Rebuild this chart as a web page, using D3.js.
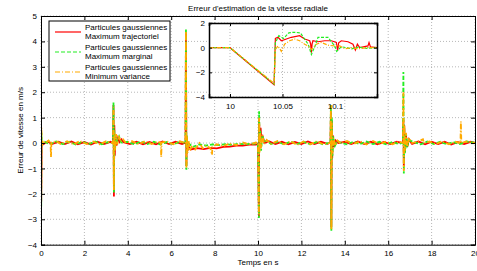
<!DOCTYPE html>
<html>
<head>
<meta charset="utf-8">
<script src="https://cdn.jsdelivr.net/npm/d3@7"></script>
<style>
  body { margin: 0; background: #fff; }
  svg { display: block; font-family: "Liberation Sans", Arial, sans-serif; }
  .grid line { stroke: #999; stroke-width: 0.7; stroke-dasharray: 1,2; }
  .tick text { font-size: 8px; fill: #000; }
</style>
</head>
<body>
<div id="chart"></div>
<script>
// chart texts
var title = "Erreur d'estimation de la vitesse radiale";
var xLabel = "Temps en s";
var yLabel = "Erreur de vitesse en m/s";
var legendRows = [["Particules gaussiennes", "Maximum trajectoriel"],
                  ["Particules gaussiennes", "Maximum marginal"],
                  ["Particules gaussiennes", "Minimum variance"]];

// ticks
var xTicks = [0, 2, 4, 6, 8, 10, 12, 14, 16, 18, 20];
var yTicks = [-4, -3, -2, -1, 0, 1, 2, 3, 4, 5];
var insetXTicks = [10, 10.05, 10.1];
var insetYTicks = [-4, -2, 0, 2];

// main plot series [t, erreur]
var redMain = [[0,0.3],[0.01,-2.3],[0.03,0.05],[0.1,-0.05],[0.3,0.06],[0.5,-0.04],[0.8,0.05],[1.1,-0.04],[1.4,0.06],[1.7,-0.05],[2.0,0.04],[2.3,-0.06],[2.6,0.05],[2.9,-0.04],[3.2,0.05],[3.32,0],[3.34,1.5],[3.36,-2.1],[3.38,0.7],[3.4,-0.5],[3.43,0.3],[3.48,-0.1],[3.55,0.2],[3.62,0.05],[3.7,0.15],[3.8,0.03],[4.1,-0.04],[4.4,0.05],[4.7,-0.05],[5.0,0.04],[5.3,-0.05],[5.6,0.06],[5.9,-0.04],[6.2,0.05],[6.5,-0.04],[6.66,0.02],[6.68,4.3],[6.7,-0.9],[6.72,0.2],[6.75,-0.3],[6.8,-0.15],[6.9,-0.25],[7.2,-0.2],[7.5,-0.24],[7.8,-0.19],[8.1,-0.21],[8.4,-0.15],[8.7,-0.14],[9.0,-0.1],[9.3,-0.1],[9.6,-0.06],[9.9,-0.06],[10.0,-0.04],[10.042,-2.9],[10.05,0.9],[10.08,0.3],[10.12,0.6],[10.16,0.1],[10.22,0.25],[10.3,0.0],[10.5,0.07],[10.8,-0.04],[11.1,0.05],[11.4,-0.05],[11.7,0.04],[12.0,-0.04],[12.3,0.06],[12.6,-0.04],[12.9,0.05],[13.2,-0.03],[13.34,0.02],[13.36,1.2],[13.38,-3.3],[13.4,0.9],[13.42,-0.6],[13.45,0.3],[13.5,-0.15],[13.58,0.1],[13.7,0.0],[14.0,0.05],[14.3,-0.04],[14.6,0.06],[14.9,-0.04],[15.2,0.05],[15.5,-0.05],[15.8,0.04],[16.1,-0.04],[16.4,0.05],[16.68,0],[16.7,0.9],[16.72,-0.9],[16.74,0.7],[16.77,-0.35],[16.82,0.3],[16.88,-0.15],[16.96,0.15],[17.1,-0.03],[17.4,0.06],[17.7,-0.05],[18.0,0.05],[18.3,-0.04],[18.6,0.05],[18.9,-0.06],[19.2,0.04],[19.5,-0.04],[19.8,0.05],[20,0]];
var greenMain = [[0,-0.1],[0.01,-2.5],[0.02,0.4],[0.04,-0.05],[0.15,0.06],[0.4,-0.05],[0.7,0.06],[1.0,-0.04],[1.3,0.05],[1.6,-0.06],[1.9,0.05],[2.2,-0.04],[2.5,0.06],[2.8,-0.05],[3.1,0.04],[3.32,0],[3.34,1.6],[3.36,-1.95],[3.38,0.5],[3.41,-0.3],[3.45,0.3],[3.52,0.05],[3.6,0.25],[3.7,0.02],[4.0,0.05],[4.3,-0.05],[4.6,0.06],[4.9,-0.04],[5.2,0.05],[5.5,-0.06],[5.8,0.04],[6.1,-0.05],[6.4,0.05],[6.66,0],[6.68,4.5],[6.7,-1.05],[6.72,0.3],[6.76,-0.25],[6.85,-0.05],[7.0,-0.15],[7.3,-0.05],[7.6,-0.1],[7.9,-0.05],[8.2,-0.08],[8.5,-0.04],[8.8,-0.07],[9.1,-0.03],[9.4,-0.05],[9.7,-0.02],[10.0,-0.03],[10.042,-2.95],[10.05,1.25],[10.07,0.2],[10.1,0.5],[10.14,-0.3],[10.2,0.3],[10.28,0.05],[10.4,0.1],[10.6,-0.04],[10.9,0.05],[11.2,-0.05],[11.5,0.06],[11.8,-0.04],[12.1,0.05],[12.4,-0.05],[12.7,0.04],[13.0,-0.05],[13.34,0.02],[13.36,1.5],[13.38,-3.45],[13.4,1.0],[13.43,-0.5],[13.47,0.25],[13.55,-0.1],[13.65,0.08],[13.8,0.02],[14.1,-0.05],[14.4,0.05],[14.7,-0.04],[15.0,0.06],[15.3,-0.04],[15.6,0.05],[15.9,-0.05],[16.2,0.04],[16.5,-0.04],[16.68,0.02],[16.7,2.8],[16.72,-1.2],[16.74,0.6],[16.77,-0.4],[16.82,0.35],[16.88,-0.1],[16.98,0.1],[17.2,0.04],[17.5,-0.05],[17.8,0.06],[18.1,-0.04],[18.4,0.05],[18.7,-0.05],[19.0,0.04],[19.3,-0.04],[19.6,0.06],[20,0.01]];
var orangeMain = [[0,0.8],[0.01,-1.8],[0.02,0.6],[0.04,-0.2],[0.08,0.1],[0.2,0.0],[0.35,0.1],[0.44,0.0],[0.46,-0.55],[0.48,0.02],[0.7,0.08],[0.9,-0.04],[1.2,0.07],[1.5,-0.05],[1.8,0.08],[2.1,-0.04],[2.4,0.06],[2.7,-0.05],[3.0,0.07],[3.32,0.0],[3.34,1.4],[3.36,-1.85],[3.38,0.4],[3.41,-0.3],[3.46,0.35],[3.52,-0.05],[3.58,0.28],[3.66,0.05],[3.78,0.15],[3.9,0.02],[4.2,0.07],[4.5,-0.05],[4.8,0.08],[5.1,-0.04],[5.4,0.06],[5.52,0.0],[5.54,-0.55],[5.56,0.02],[5.8,0.07],[6.1,-0.05],[6.4,0.07],[6.66,0.0],[6.68,4.4],[6.7,-1.0],[6.72,0.3],[6.75,-0.4],[6.8,0.1],[6.86,-0.3],[6.95,-0.1],[7.1,-0.25],[7.3,0.0],[7.45,-0.2],[7.6,-0.1],[7.8,-0.2],[7.88,-0.46],[7.9,-0.15],[8.1,-0.05],[8.4,-0.12],[8.7,-0.02],[9.0,-0.08],[9.3,0.02],[9.6,-0.05],[9.9,0.02],[10.0,0.0],[10.042,-2.8],[10.05,1.0],[10.07,-0.4],[10.1,0.4],[10.14,-0.2],[10.2,0.3],[10.28,-0.05],[10.4,0.12],[10.6,-0.03],[10.9,0.08],[11.2,-0.05],[11.5,0.07],[11.8,-0.07],[12.1,0.06],[12.4,-0.05],[12.7,0.07],[13.0,-0.04],[13.34,0.0],[13.36,1.5],[13.38,-3.4],[13.4,0.8],[13.43,-0.4],[13.48,0.2],[13.56,-0.1],[13.66,0.1],[13.8,0.0],[14.1,0.08],[14.4,-0.04],[14.7,0.07],[15.0,-0.06],[15.3,0.08],[15.6,-0.04],[15.9,0.06],[16.2,-0.05],[16.5,0.06],[16.68,0.0],[16.7,2.0],[16.72,-1.1],[16.74,0.7],[16.77,-0.3],[16.82,0.4],[16.88,-0.15],[16.96,0.2],[17.1,0.0],[17.4,0.07],[17.6,0.15],[17.65,0.0],[17.9,0.06],[18.2,-0.04],[18.5,0.06],[18.8,-0.05],[19.1,0.05],[19.33,0.0],[19.35,0.85],[19.37,0.0],[19.6,0.06],[20,0.0]];

// zoom around t = 10 s
var redInset = [[9.98,0],[10.0,0],[10.042,-3.0],[10.0432,0.75],[10.0457,0.84],[10.0489,0.56],[10.0537,0.7],[10.0584,0.84],[10.0663,0.97],[10.0711,0.7],[10.0759,0.56],[10.0768,0.3],[10.0775,-0.41],[10.0782,0.3],[10.079,0.56],[10.0838,0.48],[10.0902,0.56],[10.0965,0.56],[10.1013,0.42],[10.1025,-0.25],[10.1035,0.4],[10.106,0.56],[10.1124,0.48],[10.1171,0.28],[10.1194,-0.19],[10.1213,0.28],[10.1235,0],[10.1314,0.14],[10.1324,0.42],[10.1337,0.07],[10.141,0]];
var greenInset = [[9.98,0],[10.0,0],[10.042,-2.95],[10.0432,0.4],[10.0465,0.97],[10.051,0.75],[10.056,1.2],[10.061,1.25],[10.067,1.2],[10.071,0.7],[10.0745,0.28],[10.0775,-0.55],[10.081,0.14],[10.0838,0.84],[10.0886,0.84],[10.0934,0.84],[10.0965,0.48],[10.0997,0.14],[10.1016,-0.3],[10.106,0.07],[10.1108,0],[10.116,-0.1],[10.122,0.05],[10.13,-0.05],[10.141,0]];
var orangeInset = [[9.98,0],[10.0,0],[10.042,-2.9],[10.0432,-0.14],[10.0457,0.14],[10.0489,-0.3],[10.052,0.28],[10.0568,0.56],[10.0616,0.7],[10.0663,0.56],[10.0711,0.28],[10.0743,0.14],[10.0775,-0.14],[10.0822,0.28],[10.087,0.42],[10.0934,0.2],[10.0997,0.14],[10.1045,0.14],[10.1092,-0.09],[10.1156,0],[10.122,-0.09],[10.1314,0],[10.141,0]];

var colors = ["#ff0000", "#22ee22", "#ffaa00"];
var dashes = [null, "4,2", "5,2,1,2"];

var width = 477, height = 271;

var svg = d3.select("#chart").append("svg")
            .attr("width", width)
            .attr("height", height);

// main axes
var x = d3.scaleLinear().domain([0, 20]).range([41, 475]);
var y = d3.scaleLinear().domain([-4, 5]).range([244.7, 16]);

var grid = svg.append("g").attr("class", "grid");
grid.selectAll("line.gx").data(xTicks).enter().append("line")
    .attr("x1", d => x(d)).attr("x2", d => x(d))
    .attr("y1", y(5)).attr("y2", y(-4));
grid.selectAll("line.gy").data(yTicks).enter().append("line")
    .attr("x1", x(0)).attr("x2", x(20))
    .attr("y1", d => y(d)).attr("y2", d => y(d));

svg.append("clipPath").attr("id", "clipMain")
   .append("rect")
   .attr("x", x(0)).attr("y", y(5))
   .attr("width", x(20) - x(0)).attr("height", y(-4) - y(5));

var line = d3.line().x(d => x(d[0])).y(d => y(d[1]));
var plot = svg.append("g").attr("clip-path", "url(#clipMain)");
[redMain, greenMain, orangeMain].forEach(function(s, i) {
    plot.append("path")
        .attr("d", line(s))
        .attr("fill", "none")
        .attr("stroke", colors[i])
        .attr("stroke-width", 1.8)
        .attr("stroke-dasharray", dashes[i]);
});

// axes with inward ticks, box all around
svg.append("g")
   .attr("transform", "translate(0," + y(-4) + ")")
   .call(d3.axisBottom(x).tickValues(xTicks).tickSize(-4).tickPadding(6));
svg.append("g")
   .attr("transform", "translate(0," + y(5) + ")")
   .call(d3.axisTop(x).tickValues(xTicks).tickSize(-4).tickFormat(""));
svg.append("g")
   .attr("transform", "translate(" + x(0) + ",0)")
   .call(d3.axisLeft(y).tickValues(yTicks).tickSize(-4).tickPadding(4));
svg.append("g")
   .attr("transform", "translate(" + x(20) + ",0)")
   .call(d3.axisRight(y).tickValues(yTicks).tickSize(-4).tickFormat(""));
svg.selectAll(".domain").attr("stroke", "#000").attr("stroke-width", 1);

svg.append("text")
   .attr("x", (x(0) + x(20)) / 2).attr("y", 11)
   .attr("text-anchor", "middle").attr("font-size", 8)
   .text(title);
svg.append("text")
   .attr("x", (x(0) + x(20)) / 2).attr("y", 265)
   .attr("text-anchor", "middle").attr("font-size", 8)
   .text(xLabel);
svg.append("text")
   .attr("transform", "translate(23," + (y(5) + y(-4)) / 2 + ") rotate(-90)")
   .attr("text-anchor", "middle").attr("font-size", 8)
   .text(yLabel);

// legend
var legend = svg.append("g");
legend.append("rect")
      .attr("x", 49).attr("y", 21).attr("width", 121).attr("height", 60)
      .attr("fill", "#fff").attr("stroke", "#000").attr("stroke-width", 1);
legendRows.forEach(function(r, i) {
    var top = 30 + i * 20;
    legend.append("line")
          .attr("x1", 55).attr("x2", 81)
          .attr("y1", top + 2).attr("y2", top + 2)
          .attr("stroke", colors[i]).attr("stroke-width", 1.2)
          .attr("stroke-dasharray", dashes[i]);
    legend.append("text").attr("x", 85).attr("y", top).attr("font-size", 8).text(r[0]);
    legend.append("text").attr("x", 85).attr("y", top + 9).attr("font-size", 8).text(r[1]);
});

// inset
var xi = d3.scaleLinear().domain([9.98, 10.14]).range([209, 377]);
var yi = d3.scaleLinear().domain([-4, 2]).range([97, 23]);

var inset = svg.append("g");
inset.append("rect")
     .attr("x", xi(9.98)).attr("y", yi(2))
     .attr("width", xi(10.14) - xi(9.98)).attr("height", yi(-4) - yi(2))
     .attr("fill", "#fff");

var igrid = inset.append("g").attr("class", "grid");
igrid.selectAll("line.gx").data(insetXTicks).enter().append("line")
     .attr("x1", d => xi(d)).attr("x2", d => xi(d))
     .attr("y1", yi(2)).attr("y2", yi(-4));
igrid.selectAll("line.gy").data(insetYTicks).enter().append("line")
     .attr("x1", xi(9.98)).attr("x2", xi(10.14))
     .attr("y1", d => yi(d)).attr("y2", d => yi(d));

svg.append("clipPath").attr("id", "clipInset")
   .append("rect")
   .attr("x", xi(9.98)).attr("y", yi(2))
   .attr("width", xi(10.14) - xi(9.98)).attr("height", yi(-4) - yi(2));

var iline = d3.line().x(d => xi(d[0])).y(d => yi(d[1]));
var iplot = inset.append("g").attr("clip-path", "url(#clipInset)");
[redInset, greenInset, orangeInset].forEach(function(s, i) {
    iplot.append("path")
         .attr("d", iline(s))
         .attr("fill", "none")
         .attr("stroke", colors[i])
         .attr("stroke-width", 1.2)
         .attr("stroke-dasharray", dashes[i] ? (i == 1 ? "3,1.5" : "4,1.5,1,1.5") : null);
});

inset.append("g")
     .attr("transform", "translate(0," + yi(-4) + ")")
     .call(d3.axisBottom(xi).tickValues(insetXTicks).tickSize(-3).tickPadding(6)
             .tickFormat(d3.format("")));
inset.append("g")
     .attr("transform", "translate(0," + yi(2) + ")")
     .call(d3.axisTop(xi).tickValues(insetXTicks).tickSize(-3).tickFormat(""));
inset.append("g")
     .attr("transform", "translate(" + xi(9.98) + ",0)")
     .call(d3.axisLeft(yi).tickValues(insetYTicks).tickSize(-3).tickPadding(4)
             .tickFormat(d3.format("")));
inset.append("g")
     .attr("transform", "translate(" + xi(10.14) + ",0)")
     .call(d3.axisRight(yi).tickValues(insetYTicks).tickSize(-3).tickFormat(""));
inset.selectAll(".domain").attr("stroke", "#000").attr("stroke-width", 1.5);
</script>
</body>
</html>
